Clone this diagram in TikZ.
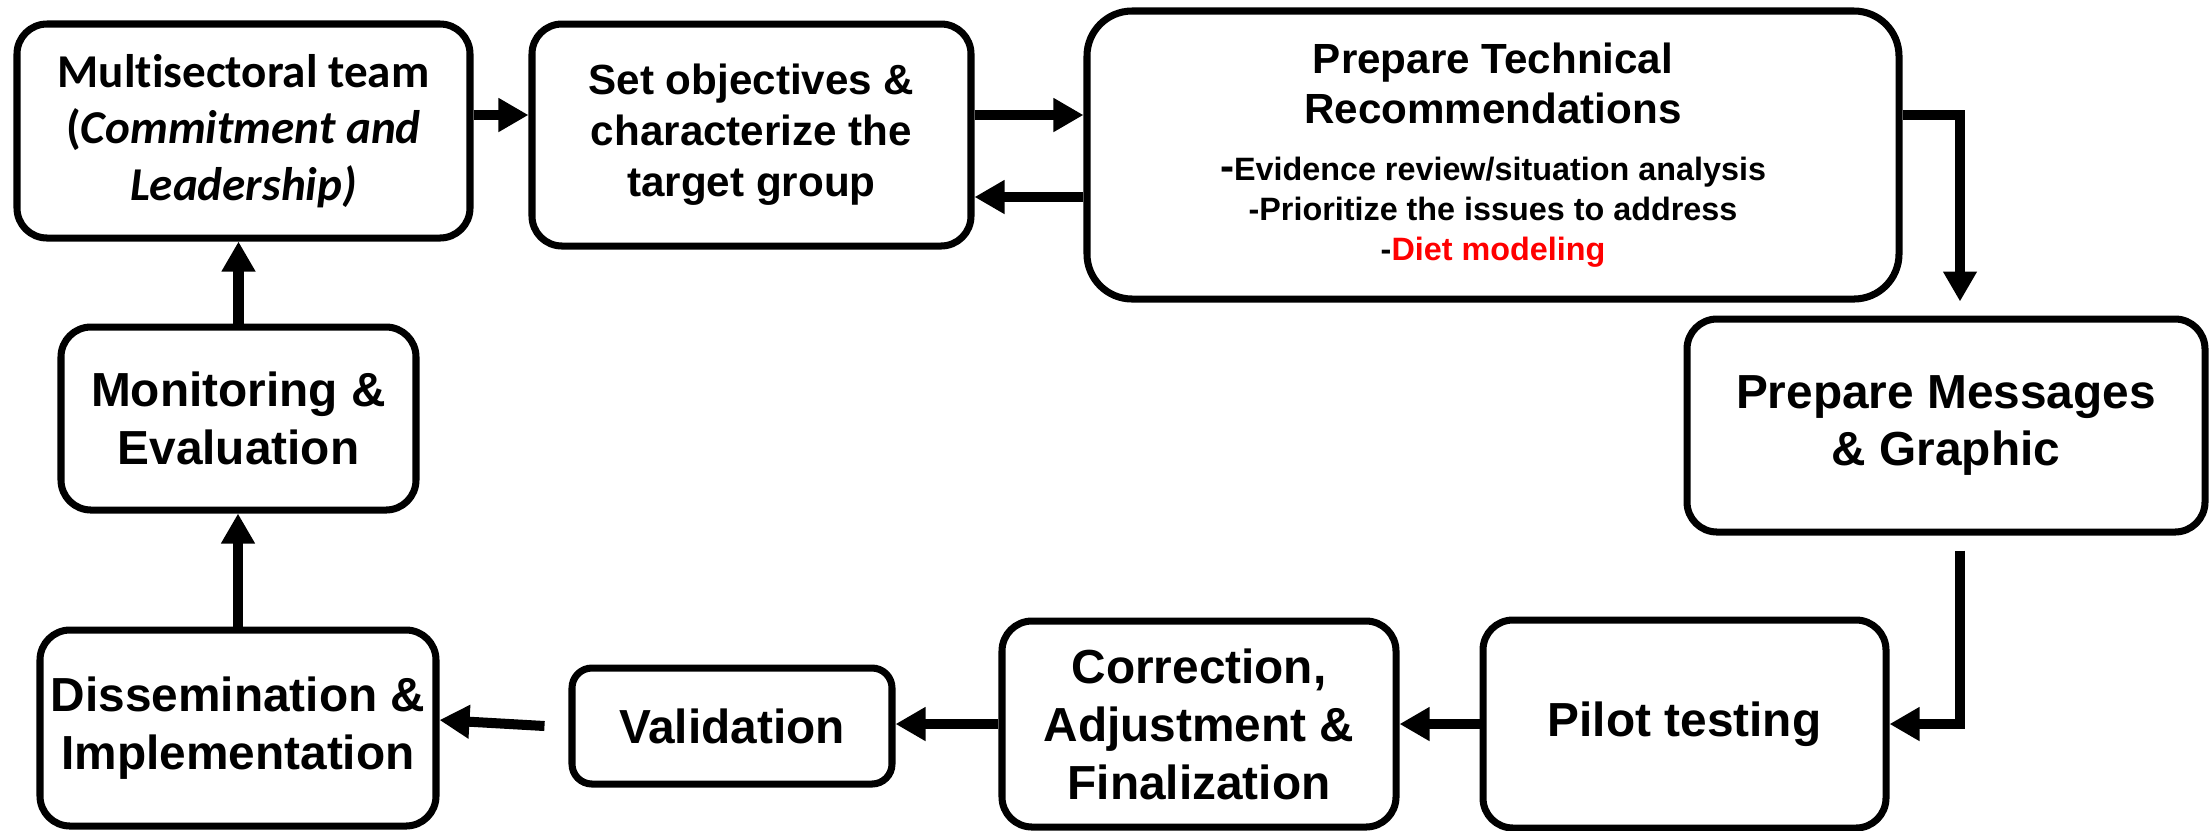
\documentclass[tikz,border=0pt]{standalone}
\usepackage{fontspec}
\setmainfont{Liberation Sans}
\newfontfamily\calib[Ligatures=NoCommon]{Carlito}
\usetikzlibrary{arrows.meta,calc}
\definecolor{dietred}{RGB}{255,0,0}
\newcommand{\bulletfont}{\fontsize{9.2}{11.3}\selectfont}
\begin{document}
\begin{tikzpicture}[
  box/.style={draw=black, line width=2pt, rounded corners=3mm, inner sep=0pt, align=center,
    font=\bfseries\fontsize{13.6}{16.5}\selectfont},
  arr/.style={line width=2.85pt, -{Triangle[length=3mm,width=3.2mm]}},
]
\useasboundingbox[fill=white] (0,0) rectangle (22.11,-8.30);

\node[box, minimum width=4.53cm, minimum height=2.14cm,
  font=\calib\bfseries\fontsize{13.4}{16}\selectfont] (B1) at (2.435,-1.31)
  {Multisectoral team\\(\textit{Commitment and}\\\textit{Leadership)}};
\node[box, minimum width=4.39cm, minimum height=2.22cm,
  font=\bfseries\fontsize{12}{14.5}\selectfont] (B2) at (7.515,-1.35)
  {Set objectives \&\\characterize the\\target group};
\node[box, rounded corners=4.5mm, minimum width=8.12cm, minimum height=2.88cm,
  font=\bfseries] (B3) at (14.93,-1.55)
  {\parbox{7.5cm}{\centering
   \fontsize{12}{14.2}\selectfont Prepare Technical\\Recommendations\par
   \vspace{4.9pt}
   \bulletfont{\fontsize{12}{11.3}\selectfont -}Evidence review/situation analysis\\
   -Prioritize the issues to address\\
   -\textcolor{dietred}{Diet modeling}\par}};
\node[box, minimum width=5.18cm, minimum height=2.13cm] (B4) at (19.46,-4.255)
  {Prepare Messages\\\& Graphic};
\node[box, minimum width=4.03cm, minimum height=2.08cm] (B5) at (16.845,-7.24)
  {Pilot testing};
\node[box, minimum width=3.94cm, minimum height=2.06cm] (B6) at (11.99,-7.24)
  {Correction,\\Adjustment \&\\Finalization};
\node[box, rounded corners=2mm, minimum width=3.20cm, minimum height=1.16cm] (B7) at (7.32,-7.26)
  {Validation};
\node[box, minimum width=3.96cm, minimum height=1.96cm] (B8) at (2.38,-7.28)
  {Dissemination \&\\Implementation};
\node[box, minimum width=3.55cm, minimum height=1.83cm] (B9) at (2.385,-4.185)
  {Monitoring \&\\Evaluation};

\draw[arr] ([yshift=1.6mm]B1.east) -- ([yshift=1.6mm]B1.east -| B2.west);
\draw[arr] ([yshift=2.0mm]B2.east) -- ([yshift=2.0mm]B2.east -| B3.west);
\draw[arr] ([yshift=-4.2mm]B3.west) -- ([yshift=-4.2mm]B3.west -| B2.east);
\draw[arr] ([yshift=4.0mm]B3.east) -| ([xshift=1.4mm,yshift=1.4mm]B4.north);
\draw[arr] ([xshift=1.4mm,yshift=-1.5mm]B4.south) |- (B5.east);
\draw[arr] (B5.west) -- (B5.west -| B6.east);
\draw[arr] (B6.west) -- (B6.west -| B7.east);
\draw[arr] ([xshift=-2.4mm]B7.west) -- ([yshift=0.8mm]B8.east);
\draw[arr] (B8.north) -- (B8.north |- B9.south);
\draw[arr] (B9.north) -- (B9.north |- B1.south);
\end{tikzpicture}
\end{document}
